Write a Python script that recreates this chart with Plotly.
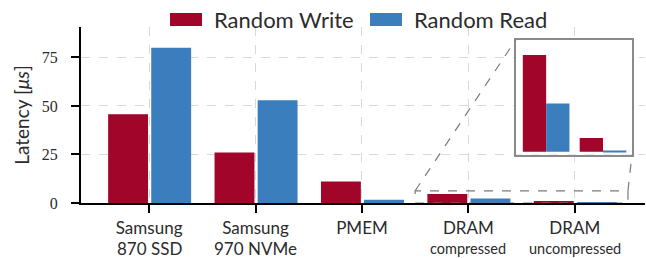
import plotly.graph_objects as go

# ---------------- data ----------------
categories = ["Samsung", "Samsung", "PMEM", "DRAM", "DRAM"]
subtitles = ["870 SSD", "970 NVMe", "", "compressed", "uncompressed"]
write_us = [45.7, 26.0, 11.1, 4.6, 0.65]
read_us = [80.0, 53.0, 1.7, 2.3, 0.05]
y_ticks = [0, 25, 50, 75]
series_names = ["Random Write", "Random Read"]
colors = ["#a10529", "#3a7ebd"]
inset_start = 3  # DRAM categories shown in the zoomed inset

# ---------------- layout helpers ----------------
W, H = 646, 258
L, R, T, B = 81, 1, 27, 55
pw, ph = W - L - R, H - T - B
def px(x):
    return (x - L) / pw
def py(y):
    return (H - B - y) / ph

xr = [-0.64, 4.66]
yr = [0, 90.7]
def dx(v):
    return (v - xr[0]) / (xr[1] - xr[0])
def dy(v):
    return (v - yr[0]) / (yr[1] - yr[0])

xs = list(range(len(categories)))
sans = "Lato"
serif = "Liberation Serif"
txt = "#2b2b2b"

fig = go.Figure()
# main bars
fig.add_trace(go.Bar(x=xs, y=write_us, name=series_names[0], marker_color=colors[0],
                     width=0.375, offset=-0.385, marker_line_width=0, showlegend=False))
fig.add_trace(go.Bar(x=xs, y=read_us, name=series_names[1], marker_color=colors[1],
                     width=0.375, offset=0.02, marker_line_width=0, showlegend=False))
# inset bars
fig.add_trace(go.Bar(x=xs[inset_start:], y=write_us[inset_start:], marker_color=colors[0],
                     width=0.41, offset=-0.41, marker_line_width=0, showlegend=False,
                     xaxis="x2", yaxis="y2"))
fig.add_trace(go.Bar(x=xs[inset_start:], y=read_us[inset_start:], marker_color=colors[1],
                     width=0.41, offset=0.0, marker_line_width=0, showlegend=False,
                     xaxis="x2", yaxis="y2"))

grid = dict(showgrid=True, gridcolor="#d9d9d9", gridwidth=1, griddash="dash")

fig.update_layout(
    width=W, height=H,
    margin=dict(l=L, r=R, t=T, b=B, pad=0),
    paper_bgcolor="white", plot_bgcolor="white",
    barmode="overlay",
    showlegend=False,
    xaxis=dict(range=xr, tickvals=xs, ticktext=categories, domain=[0, 1],
               showline=True, linecolor="black", linewidth=2,
               ticks="outside", ticklen=8, tickwidth=2, tickcolor="black",
               tickfont=dict(family=sans, size=17, color=txt),
               ticklabelstandoff=1, zeroline=False, **grid),
    yaxis=dict(range=yr, tickvals=y_ticks, domain=[0, 1],
               showline=True, linecolor="black", linewidth=2,
               ticks="outside", ticklen=8, tickwidth=2, tickcolor="black",
               tickfont=dict(family=serif, size=16, color=txt),
               ticklabelstandoff=10, zeroline=False,
               title=dict(text="Latency [<i>μs</i>]", font=dict(family=sans, size=19, color=txt),
                          standoff=7),
               **grid),
    xaxis2=dict(domain=[px(516), px(632)], range=[2.47, 4.51], anchor="y2",
                showgrid=False, zeroline=False, showticklabels=False, ticks="",
                showline=True, mirror=True, linecolor="#8a8a8a", linewidth=2),
    yaxis2=dict(domain=[py(154.5), py(39.5)], range=[-0.13, 5.34], anchor="x2",
                showgrid=False, zeroline=False, showticklabels=False, ticks="",
                showline=True, mirror=True, linecolor="#8a8a8a", linewidth=2),
)

shapes = []
# white background for inset (hides main grid)
shapes.append(dict(type="rect", xref="paper", yref="paper", x0=px(516), x1=px(632),
                   y0=py(154.5), y1=py(39.5), fillcolor="white", line_width=0, layer="between"))
# zoom region rectangle on main axes
zx0, zx1, zy0, zy1 = 2.5, 4.5, 0.0, 6.3
shapes.append(dict(type="rect", xref="x", yref="y", x0=zx0, x1=zx1, y0=zy0, y1=zy1,
                   line=dict(color="#7a7a7a", width=1.2, dash="dash"), layer="above"))
# connector lines
shapes.append(dict(type="line", xref="paper", yref="paper", x0=dx(zx0), y0=dy(zy1),
                   x1=px(516), y1=py(39.5), line=dict(color="#7a7a7a", width=1.2, dash="dash")))
shapes.append(dict(type="line", xref="paper", yref="paper", x0=dx(zx1), y0=dy(zy1),
                   x1=px(632), y1=py(154.5), line=dict(color="#7a7a7a", width=1.2, dash="dash")))
# custom legend swatches
leg_x = [170, 370]
for i, c in enumerate(colors):
    shapes.append(dict(type="rect", xref="paper", yref="paper", x0=px(leg_x[i]), x1=px(leg_x[i] + 32),
                       y0=py(26), y1=py(13), fillcolor=c, line_width=0))
fig.update_layout(shapes=shapes)

ann = []
for i, name in enumerate(series_names):
    ann.append(dict(xref="paper", yref="paper", x=px(leg_x[i] + 42), y=py(20), text=name,
                    showarrow=False, xanchor="left", yanchor="middle",
                    font=dict(family=sans, size=22, color=txt)))
for i, s in enumerate(subtitles):
    if not s:
        continue
    size = 14.5 if s.endswith("compressed") else 17
    ann.append(dict(xref="x", yref="paper", x=xs[i], y=py(248), text=s, showarrow=False,
                    xanchor="center", yanchor="middle", font=dict(family=sans, size=size, color=txt)))
fig.update_layout(annotations=ann)

fig.write_html("out.html", config={"displayModeBar": False},
               post_script="document.body.style.margin='0';document.body.style.overflow='hidden';")
